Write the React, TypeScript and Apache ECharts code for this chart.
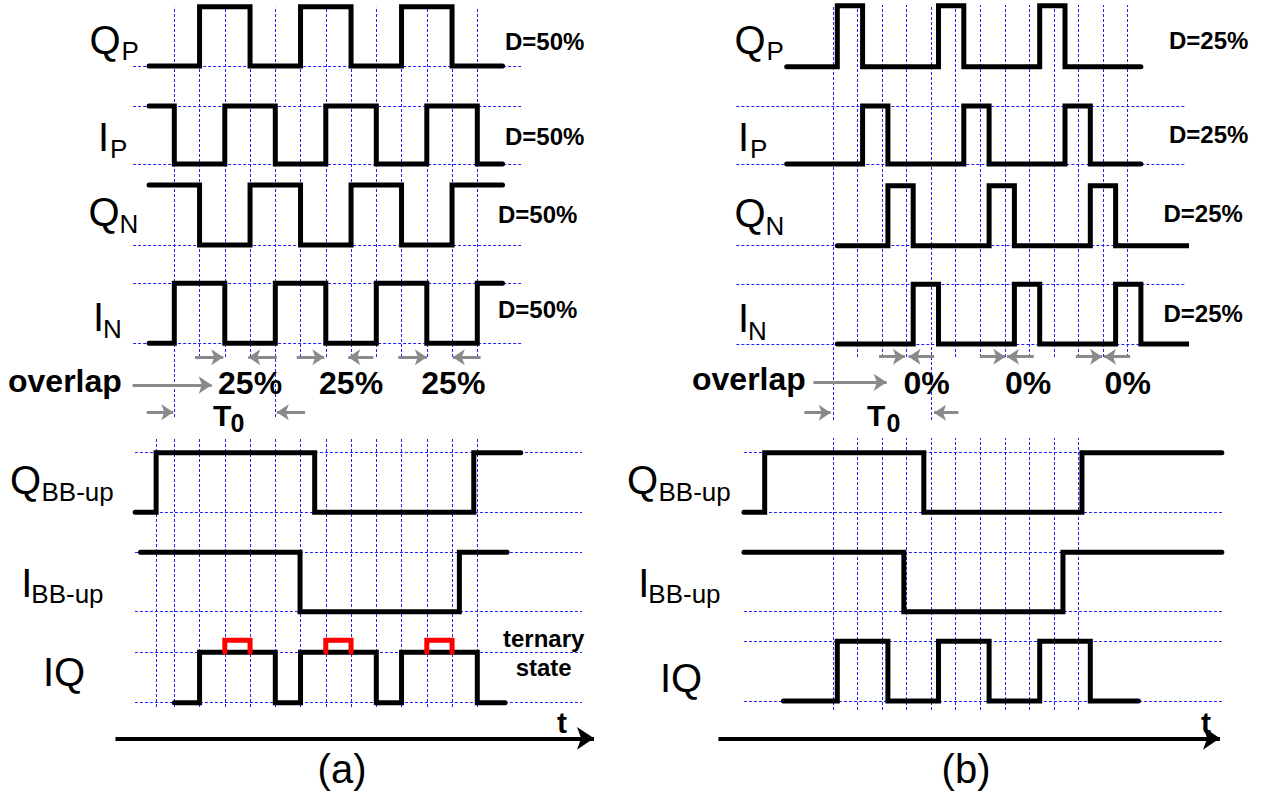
import React, { useEffect, useRef } from "react";
import * as echarts from "echarts";

// ---------- waveform data (time in units of T0/4, logic levels 0 / 1) ----------
// panel (a): 50 % duty cycle, 25 % overlap
const aQP_edges = [1, 3, 5, 7, 9, 11];
const aIP_edges = [0, 2, 4, 6, 8, 10, 12];
const aQN_edges = [1, 3, 5, 7, 9, 11];
const aIN_edges = [0, 2, 4, 6, 8, 10, 12];
const aQBB_edges = [-0.72, 5.56, 11.86];
const aIBB_edges = [4.98, 11.29];
const aIQ_edges = [1, 4, 5, 8, 9, 12];
const aTernary = [[2, 3], [6, 7], [10, 11]];
const ternaryLevel = 1.24;
const aSpans = [[-1, 13], [-1, 13], [-1, 13], [-1, 13], [-1.55, 13.72], [-1.34, 13.18], [0, 13.1]];
const aInit = [0, 1, 1, 0, 0, 1, 0];

// panel (b): 25 % duty cycle, 0 % overlap
const bQP_edges = [0, 1, 4, 5, 8, 9];
const bIP_edges = [1, 2, 5, 6, 9, 10];
const bQN_edges = [2, 3, 6, 7, 10, 11];
const bIN_edges = [3, 4, 7, 8, 11, 12];
const bQBB_edges = [-2.87, 3.42, 9.67];
const bIBB_edges = [2.63, 8.92];
const bIQ_edges = [0, 2, 4, 6, 8, 10];
const bSpans = [[-2, 12], [-2, 12], [0, 14], [0, 14], [-3.69, 15.2], [-3.69, 15.2], [-2.13, 11.9]];
const bInit = [0, 0, 0, 0, 0, 1, 0];

// vertical (time) grid lines
const aTopGrid = [1, 2, 3, 5, 6, 7, 8, 9, 10, 11, 12];
const aTopLong = [0, 4];
const aBotGrid = [-0.72, 0, 1, 2, 3, 4, 5, 6, 7, 8, 9, 10, 11, 12];
const bTopGrid = [1, 2, 3, 5, 6, 7, 8, 9, 10, 11, 12];
const bTopLong = [0, 4];
const bBotGrid = [0, 1, 2, 3, 4, 5, 6, 7, 8, 9, 10];

// annotation arrows [from, to]
const aSmallArrows = [[0.82, 1.94], [4.06, 2.93], [4.85, 5.94], [7.88, 6.89], [8.87, 10.0], [12.13, 11.03]];
const aOverlapArrow = [[-1.65, 1.48]];
const aT0Arrows = [[-1.09, -0.04], [5.18, 4.06]];
const aTimeArrow = [[-2.33, 16.62]];
const bSmallArrows = [[1.88, 2.93], [4.12, 3.08], [5.98, 7.02], [8.18, 7.09], [9.89, 10.96], [12.1, 11.04]];
const bOverlapArrow = [[-0.79, 2.19]];
const bT0Arrows = [[-1.16, -0.09], [5.11, 4.12]];
const bTimeArrow = [[-4.66, 15.76]];

// texts
const mainLabels = ["Q", "I", "Q", "I"];
const subLabels = ["P", "P", "N", "N"];
const aDuty = ["D=50%", "D=50%", "D=50%", "D=50%"];
const bDuty = ["D=25%", "D=25%", "D=25%", "D=25%"];
const aOverlapPct = ["25%", "25%", "25%"];
const aPctAt = [3.0, 7.0, 11.05];
const bOverlapPct = ["0%", "0%", "0%"];
const bPctAt = [3.53, 7.54, 11.48];

// ---------- layout / style ----------
const FONT = "'Liberation Sans', Arial, Helvetica, sans-serif";
const BLUE = "#2020ff";
const GRAY = "#8a8a8a";
const NONE = "rgba(0,0,0,0)";

type Panel = { x0: number; u: number };
const PA: Panel = { x0: 174.3, u: 25.25 };
const PB: Panel = { x0: 837.3, u: 25.3 };

const aRowY = [[6.7, 66], [106, 164], [185, 245], [283.3, 343.3], [452.7, 512.3], [552.3, 611.7], [652.3, 702.7]];
const bRowY = [[5.7, 66.7], [106, 164], [185.7, 245.7], [284.3, 344], [452.7, 512.3], [552.3, 611.7], [641.3, 701]];
const aDash = [[1, 0], [1, 1], [1, 0], [1, 1], [1, 1], [1, 1], [1, 1]];
const bDash = [[0, 0], [1, 1], [1, 0], [1, 1], [1, 1], [1, 1], [1, 1]];

function wave(span: number[], init: number, edges: number[]) {
  const pts: number[][] = [[span[0], init]];
  let v = init;
  for (const e of edges) {
    pts.push([e, v]);
    v = 1 - v;
    pts.push([e, v]);
  }
  pts.push([span[1], v]);
  return pts;
}

export default function App() {
  const ref = useRef<HTMLDivElement>(null);

  useEffect(() => {
    const chart = echarts.init(ref.current!, null, { renderer: "svg" });
    const grids: any[] = [];
    const xAxes: any[] = [];
    const yAxes: any[] = [];
    const series: any[] = [];
    const graphics: any[] = [];

    function addGrid(p: Panel, tMin: number, tMax: number, top: number, bottom: number, dash?: number[]) {
      const i = grids.length;
      grids.push({ left: p.x0 + tMin * p.u, width: (tMax - tMin) * p.u, top, height: bottom - top, containLabel: false });
      xAxes.push({ gridIndex: i, type: "value", min: tMin, max: tMax, show: false });
      const showDash = !!dash && (dash[0] || dash[1]);
      yAxes.push({
        gridIndex: i,
        type: "value",
        min: 0,
        max: 1,
        interval: 1,
        show: !!showDash,
        axisLine: { show: false },
        axisTick: { show: false },
        axisLabel: { show: false },
        splitLine: {
          show: !!showDash,
          lineStyle: { color: dash ? dash.map((d) => (d ? BLUE : NONE)) : NONE, type: [3, 2], width: 1 },
        },
      });
      return i;
    }

    function vLines(p: Panel, ts: number[], top: number, bottom: number) {
      const g = addGrid(p, -6, 18, top, bottom);
      series.push({
        type: "lines",
        coordinateSystem: "cartesian2d",
        xAxisIndex: g,
        yAxisIndex: g,
        silent: true,
        z: 1,
        data: ts.map((t) => ({ coords: [[t, 0], [t, 1]] })),
        lineStyle: { color: BLUE, width: 1, type: [3, 2], opacity: 1 },
      });
    }

    function arrows(p: Panel, list: number[][], yc: number, color: string, width: number, size: number) {
      const g = addGrid(p, -6, 18, yc - 5, yc + 5);
      series.push({
        type: "lines",
        coordinateSystem: "cartesian2d",
        xAxisIndex: g,
        yAxisIndex: g,
        silent: true,
        clip: false,
        z: 4,
        symbol: ["none", "arrow"],
        symbolSize: size,
        data: list.map((a) => ({ coords: [[a[0], 0.5], [a[1], 0.5]] })),
        lineStyle: { color, width, opacity: 1 },
      });
    }

    function rows(p: Panel, rowY: number[][], dash: number[][], spans: number[][], init: number[], edges: number[][], topSpan: number[], botSpan: number[]) {
      const ids: number[] = [];
      rowY.forEach((ry, k) => {
        const sp = k < 4 ? topSpan : botSpan;
        const g = addGrid(p, sp[0], sp[1], ry[0], ry[1], dash[k]);
        ids.push(g);
        series.push({
          type: "line",
          xAxisIndex: g,
          yAxisIndex: g,
          data: wave(spans[k], init[k], edges[k]),
          symbol: "none",
          silent: true,
          clip: false,
          z: 3,
          lineStyle: { color: "#000", width: 5, cap: "round", join: "miter" },
        });
      });
      return ids;
    }

    // ----- panel (a) -----
    vLines(PA, aTopGrid, 6.7, 357);
    vLines(PA, aTopLong, 6.7, 417);
    vLines(PA, aBotGrid, 437, 707);
    const aIds = rows(PA, aRowY, aDash, aSpans, aInit,
      [aQP_edges, aIP_edges, aQN_edges, aIN_edges, aQBB_edges, aIBB_edges, aIQ_edges],
      [-1.63, 13.79], [-1.56, 16.15]);
    series.push({
      type: "lines",
      coordinateSystem: "cartesian2d",
      xAxisIndex: aIds[6],
      yAxisIndex: aIds[6],
      polyline: true,
      silent: true,
      clip: false,
      z: 5,
      data: aTernary.map((r) => ({ coords: [[r[0], 1], [r[0], ternaryLevel], [r[1], ternaryLevel], [r[1], 1]] })),
      lineStyle: { color: "#ff0000", width: 5, cap: "round", join: "miter", opacity: 1 },
    });
    arrows(PA, aSmallArrows, 357.3, GRAY, 3, 12);
    arrows(PA, aOverlapArrow, 385, GRAY, 3, 13);
    arrows(PA, aT0Arrows, 412.3, GRAY, 3, 12);
    arrows(PA, aTimeArrow, 738.3, "#000", 4, 17);

    // ----- panel (b) -----
    vLines(PB, bTopGrid, 5, 357);
    vLines(PB, bTopLong, 5, 420);
    vLines(PB, bBotGrid, 438, 710);
    rows(PB, bRowY, bDash, bSpans, bInit,
      [bQP_edges, bIP_edges, bQN_edges, bIN_edges, bQBB_edges, bIBB_edges, bIQ_edges],
      [-3.99, 13.79], [-3.69, 15.2]);
    arrows(PB, bSmallArrows, 356.7, GRAY, 3, 12);
    arrows(PB, bOverlapArrow, 382.3, GRAY, 3, 13);
    arrows(PB, bT0Arrows, 412.7, GRAY, 3, 12);
    arrows(PB, bTimeArrow, 738.3, "#000", 4, 17);

    // ----- texts -----
    const txt = (text: string, x: number, y: number, size: number, bold = false, align = "left") => {
      graphics.push({
        type: "text",
        x,
        y,
        silent: true,
        z: 10,
        style: {
          text,
          fill: "#000",
          fontSize: size,
          fontFamily: FONT,
          fontWeight: bold ? "bold" : "normal",
          textAlign: align,
          textVerticalAlign: "middle",
          verticalAlign: "middle",
        },
      });
    };
    const tx = (p: Panel, t: number) => p.x0 + t * p.u;

    // row labels, panel (a) then (b)
    const aMainX = [89.5, 98, 88.5, 93];
    const aMainY = [40, 136.7, 211.7, 316.7];
    const aSubX = [121.5, 110, 119.5, 103];
    const aSubY = [51, 149.2, 224.2, 329.2];
    const bMainX = [734.5, 738, 734.5, 738];
    const bMainY = [40, 136.7, 213, 318];
    const bSubX = [766.5, 750, 765.5, 748];
    const bSubY = [51, 149.2, 225.5, 330.5];
    mainLabels.forEach((m, k) => {
      txt(m, aMainX[k], aMainY[k], 40);
      txt(subLabels[k], aSubX[k], aSubY[k], 26);
      txt(m, bMainX[k], bMainY[k], 40);
      txt(subLabels[k], bSubX[k], bSubY[k], 26);
    });
    const aDutyX = [505, 505, 498, 498];
    const aDutyY = [41, 136, 214.5, 309];
    const bDutyX = [1169, 1169, 1163.5, 1163.5];
    const bDutyY = [40, 134, 213, 313];
    aDuty.forEach((d, k) => txt(d, aDutyX[k], aDutyY[k], 24, true));
    bDuty.forEach((d, k) => txt(d, bDutyX[k], bDutyY[k], 24, true));

    txt("overlap", 8, 381, 32, true);
    txt("overlap", 692, 379, 32, true);
    aOverlapPct.forEach((s, k) => txt(s, tx(PA, aPctAt[k]), 383.3, 32, true, "center"));
    bOverlapPct.forEach((s, k) => txt(s, tx(PB, bPctAt[k]), 383, 32, true, "center"));
    txt("T", 213, 415, 30, true);
    txt("0", 230.5, 422.5, 25, true);
    txt("T", 867, 415, 30, true);
    txt("0", 886.5, 422.5, 25, true);

    // bottom labels
    const botDx = [0, 617];
    botDx.forEach((dx) => {
      txt("Q", 10 + dx, 480, 40);
      txt("BB-up", 41.5 + dx, 491.7, 26);
      txt("I", 21.3 + dx, 582.5, 40);
      txt("BB-up", 31.3 + dx, 594, 26);
    });
    txt("IQ", 43, 671.7, 40);
    txt("IQ", 660, 678, 40);
    txt("ternary", 543.7, 638.3, 24, true, "center");
    txt("state", 543.7, 667.3, 24, true, "center");
    txt("t", 562, 722, 30, true, "center");
    txt("t", 1206, 722, 30, true, "center");
    txt("(a)", 342, 769, 40, false, "center");
    txt("(b)", 966, 769, 40, false, "center");

    chart.setOption({
      animation: false,
      backgroundColor: "#ffffff",
      grid: grids,
      xAxis: xAxes,
      yAxis: yAxes,
      series,
      graphic: { elements: graphics },
    });
    return () => chart.dispose();
  }, []);

  return <div ref={ref} style={{ position: "absolute", left: 0, top: 0, width: 1275, height: 798 }} />;
}
